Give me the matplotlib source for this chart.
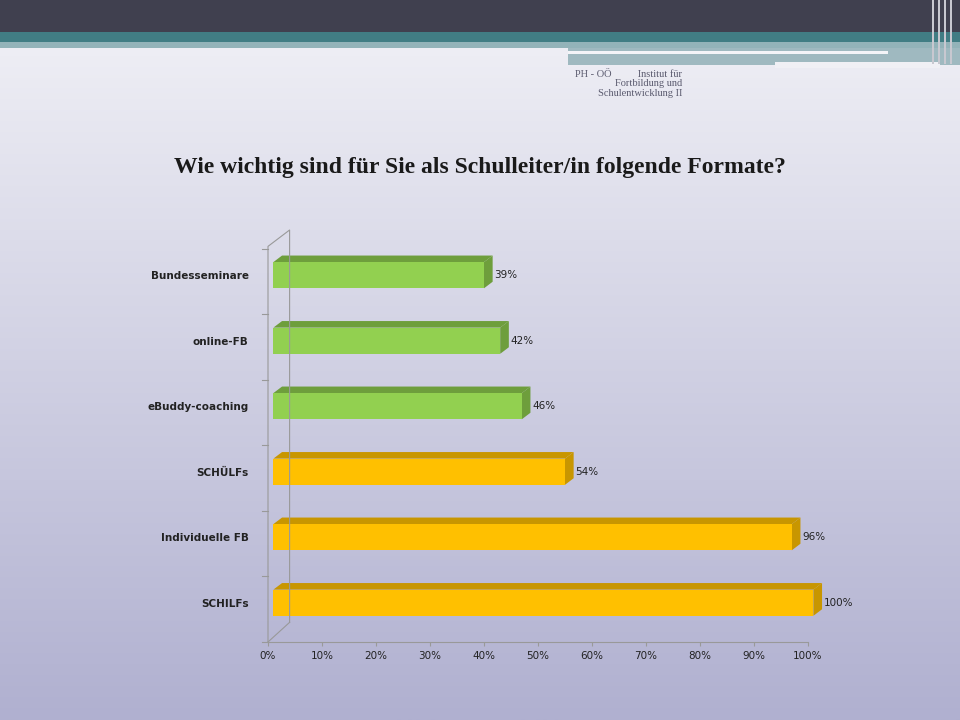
import matplotlib
matplotlib.use("Agg")
import matplotlib.pyplot as plt
import numpy as np
from matplotlib.patches import Polygon, Rectangle
from matplotlib.colors import LinearSegmentedColormap

categories = ["SCHILFs", "Individuelle FB", "SCHÜLFs", "eBuddy-coaching", "online-FB", "Bundesseminare"]
values = [100, 96, 54, 46, 42, 39]
labels = ["100%", "96%", "54%", "46%", "42%", "39%"]
face_colors = ["#ffc000", "#ffc000", "#ffc000", "#92d050", "#92d050", "#92d050"]
dark_colors = ["#c89600", "#c89600", "#c89600", "#6e9e3c", "#6e9e3c", "#6e9e3c"]
xticks = list(range(0, 101, 10))

fig = plt.figure(figsize=(9.6, 7.2), dpi=100)
bg = fig.add_axes([0, 0, 1, 1], zorder=-10)
grad = np.linspace(0, 1, 256).reshape(-1, 1)
cm = LinearSegmentedColormap.from_list("g", ["#f2f2f7", "#b0b0d0"])
bg.imshow(grad, aspect="auto", cmap=cm, extent=[0, 1, 0, 1], origin="upper")
bg.set_xlim(0, 1); bg.set_ylim(0, 1); bg.axis("off")
H = 720.0
def band(y0, y1, x0, x1, c):
    bg.add_patch(Rectangle((x0/960, 1-y1/H), (x1-x0)/960, (y1-y0)/H, color=c, lw=0))
band(0, 32, 0, 960, "#40404f")
band(32, 42, 0, 960, "#417d84")
band(42, 48, 0, 960, "#93b3b9")
band(48, 65, 568, 960, "#9fb9c0")
band(51, 54, 568, 888, "#f4f4f8")
band(62, 68, 775, 940, "#f0f0f5")
for xx in [932, 938, 944, 950]:
    band(0, 64, xx, xx+2, "#c8c8d0")
fig.text(682/960, 1-70/H, "PH - OÖ          Institut für\nFortbildung und\nSchulentwicklung II",
         ha="right", va="top", fontsize=7.5, family="Liberation Serif", color="#5a5a6e", linespacing=1.05)
fig.text(0.5, 1-167/H, "Wie wichtig sind für Sie als Schulleiter/in folgende Formate?",
         ha="center", va="center", fontsize=17, fontweight="bold", family="Liberation Serif", color="#1a1a1a")

ax = fig.add_axes([268/960, 1-642/H, 540/960, 412/H])
ax.patch.set_alpha(0)
ax.set_xlim(0, 100)
ax.set_ylim(-0.6, 5.69)
dx, dy, h, off = 1.6, 0.1, 0.4, 1.0
for i, (v, fc, dc, lab) in enumerate(zip(values, face_colors, dark_colors, labels)):
    y0 = i - h/2
    ax.add_patch(Polygon([(off, y0+h), (off+v, y0+h), (off+v+dx, y0+h+dy), (off+dx, y0+h+dy)], closed=True, color=dc, lw=0, clip_on=False))
    ax.add_patch(Polygon([(off+v, y0), (off+v+dx, y0+dy), (off+v+dx, y0+h+dy), (off+v, y0+h)], closed=True, color=dc, lw=0, clip_on=False))
    ax.add_patch(Rectangle((off, y0), v, h, color=fc, lw=0, clip_on=False))
    ax.text(off+v+dx+0.3, i, lab, va="center", ha="left", fontsize=7.5, color="#222222")
ax.set_yticks(range(len(categories)))
ax.set_yticklabels(categories, fontsize=7.5, fontweight="bold", color="#222222")
ax.set_xticks(xticks)
ax.set_xticklabels([f"{t}%" for t in xticks], fontsize=7.5, color="#222222")
for s in ["top", "right", "left"]:
    ax.spines[s].set_visible(False)
ax.spines["bottom"].set_color("#999999")
ax.tick_params(axis="y", length=0, pad=14)
ax.tick_params(axis="x", length=3, color="#999999")
# walls
top = 5.69
ax.plot([0, 0, 4, 4], [-0.6, top-0.25, top, -0.3], color="#999999", lw=0.8, clip_on=False)
ax.plot([0, 4], [-0.6, -0.3], color="#999999", lw=0.8, clip_on=False)
for k in np.arange(-0.6, 5.5, 1.0):
    ax.plot([-1.2, 0], [k, k], color="#999999", lw=0.8, clip_on=False)
fig.savefig("out.png", dpi=100)
